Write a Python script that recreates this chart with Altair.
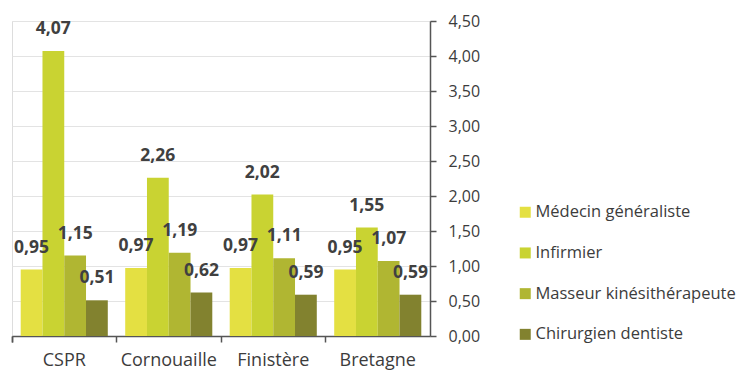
import altair as alt
import pandas as pd

regions = ["CSPR", "Cornouaille", "Finistère", "Bretagne"]
series = ["Médecin généraliste", "Infirmier", "Masseur kinésithérapeute", "Chirurgien dentiste"]
colors = ["#e4e042", "#c9d332", "#b0b632", "#82822f"]
medecin = [0.95, 0.97, 0.97, 0.95]
infirmier = [4.07, 2.26, 2.02, 1.55]
masseur = [1.15, 1.19, 1.11, 1.07]
dentiste = [0.51, 0.62, 0.59, 0.59]

rows = []
for s, vals in zip(series, [medecin, infirmier, masseur, dentiste]):
    for r, v in zip(regions, vals):
        rows.append({"region": r, "serie": s, "value": v,
                     "label": f"{v:.2f}".replace(".", ",")})
df = pd.DataFrame(rows)

FONT = "Open Sans"

x = alt.X("region:N", sort=regions, title=None,
          scale=alt.Scale(paddingInner=0, paddingOuter=0),
          axis=alt.Axis(bandPosition=0, tickExtra=True, labelAngle=0,
                        labelFontSize=18, labelColor="#3c3c3c", labelFont=FONT,
                        labelPadding=9, tickSize=6, tickColor="#555555",
                        domainColor="#555555", domainWidth=1.5, tickWidth=1.5,
                        grid=False, labelBaseline="top"))
xo = alt.XOffset("serie:N", sort=series,
                 scale=alt.Scale(paddingInner=0, paddingOuter=0.4))
y = alt.Y("value:Q", title=None,
          scale=alt.Scale(domain=[0, 4.5], nice=False),
          axis=alt.Axis(orient="right", values=[i * 0.5 for i in range(10)],
                        labelExpr="replace(format(datum.value, '.2f'), '.', ',')",
                        labelFontSize=16, labelColor="#3c3c3c", labelFont=FONT,
                        labelPadding=12, tickSize=6, tickColor="#555555",
                        tickWidth=1.5, domainColor="#555555", domainWidth=1.5,
                        grid=True, gridColor="#e3e3e3", gridWidth=1))
color = alt.Color("serie:N", sort=series,
                  scale=alt.Scale(domain=series, range=colors),
                  legend=alt.Legend(title=None, orient="none", legendX=505, legendY=183,
                                    symbolType="square", symbolSize=121,
                                    symbolStrokeWidth=0, labelFontSize=16.5,
                                    labelFont=FONT, labelColor="#3c3c3c",
                                    labelOffset=2, rowPadding=23.7, labelLimit=0))

base = alt.Chart(df)
bars = base.mark_bar().encode(x=x, xOffset=xo, y=y, color=color)
labels = base.mark_text(fontSize=17.5, fontWeight="bold", font=FONT, color="#404040",
                        baseline="alphabetic", dy=-17).encode(
    x=x, xOffset=xo, y=y, text="label:N")

chart = alt.layer(bars, labels).properties(
    width=418, height=315,
    autosize=alt.AutoSizeParams(type="none"),
    padding={"left": 4, "top": 13, "right": 313, "bottom": 36},
).configure_view(stroke=None).configure(background="white")

chart.save("out.html", embed_options={"renderer": "svg", "actions": False})
